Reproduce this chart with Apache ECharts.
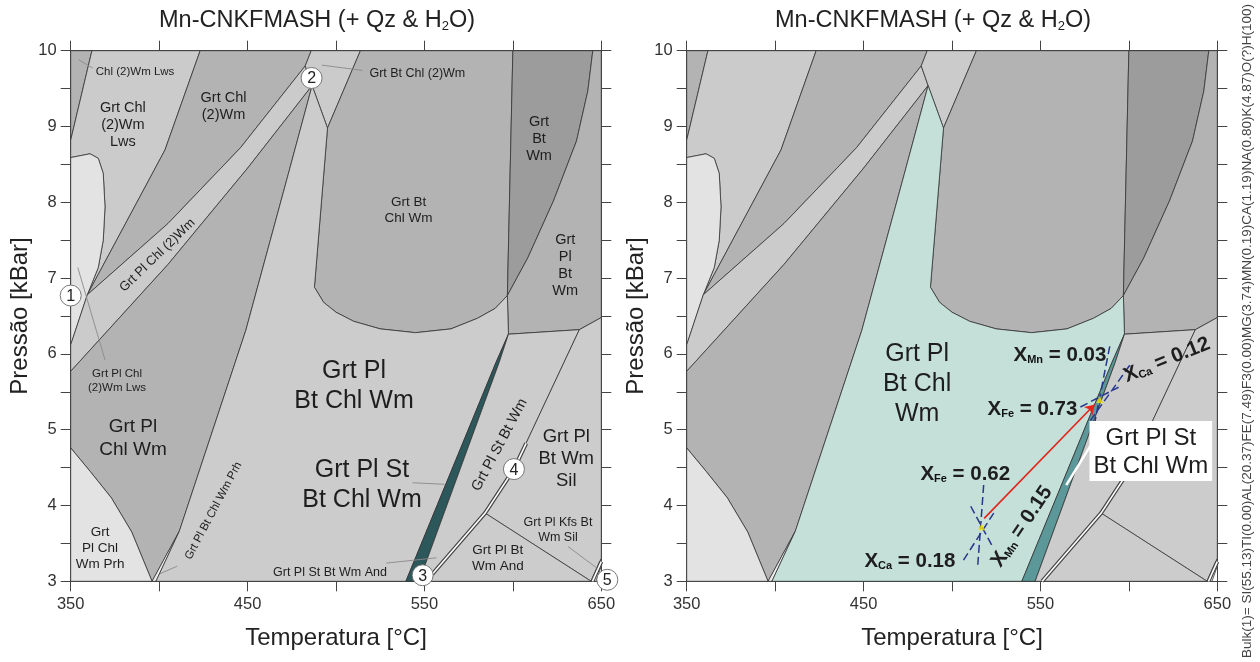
<!DOCTYPE html>
<html>
<head>
<meta charset="utf-8">
<script src="https://cdn.jsdelivr.net/npm/echarts@6/dist/echarts.min.js"></script>
<style>
  html, body { margin: 0; padding: 0; background: #fff; }
  #chart { width: 1260px; height: 662px; }
</style>
</head>
<body>
<div id="chart"></div>
<script>
// axis labels
const tempLabels = [350, 450, 550, 650]
const presLabels = [3, 4, 5, 6, 7, 8, 9, 10]

// field outlines, [T °C, P kBar]
const corner = [[350, 10], [362, 10], [350, 8.82]]
const chlLws = [[362, 10], [423.2, 10], [403.3, 8.69], [359.4, 6.78], [365.6, 7.14], [368.4, 7.5], [369.4, 7.94], [368.4, 8.38], [365.6, 8.58], [360.9, 8.64], [350, 8.59], [350, 8.82]]
const plLws = [[350, 8.59], [360.9, 8.64], [365.6, 8.58], [368.4, 8.38], [369.4, 7.94], [368.4, 7.5], [365.6, 7.14], [359.4, 6.78], [350, 6.12]]
const chl2wm = [[423.2, 10], [486, 10], [482.6, 9.8], [446, 8.72], [405, 7.72], [359.4, 6.78], [403.3, 8.69]]
const plChl2wm = [[350, 6.12], [359.4, 6.78], [405, 7.72], [446, 8.72], [482.6, 9.8], [486.5, 9.54], [450, 8.45], [405, 7.18], [350, 5.77]]
const plChlWm = [[350, 5.77], [405, 7.18], [450, 8.45], [486.5, 9.54], [473, 8.37], [449, 6.31], [411.4, 3.66], [396, 3], [384.5, 3.65], [373, 4.1], [361, 4.45], [350, 4.76]]
const prh = [[350, 3], [396, 3], [384.5, 3.65], [373, 4.1], [361, 4.45], [350, 4.76]]
const prhThin = [[396, 3], [411.4, 3.66], [398.2, 3]]
const btChl2wm = [[486, 10], [513.8, 10], [495.2, 8.98], [486.5, 9.54], [482.6, 9.8]]
const btChlWm = [[513.8, 10], [600, 10], [596.9, 6.77], [590, 6.6], [580, 6.47], [565, 6.33], [545, 6.28], [525, 6.33], [510, 6.43], [500, 6.55], [493, 6.68], [487.8, 6.88], [495.2, 8.98]]
const btWm = [[600, 10], [645.2, 10], [642.4, 9.47], [636, 8.81], [623, 8.02], [608.5, 7.27], [596.9, 6.77]]
const plBtWm = [[645.2, 10], [650, 10], [650, 6.48], [637.6, 6.32], [597.5, 6.26], [596.9, 6.77], [608.5, 7.27], [623, 8.02], [636, 8.81], [642.4, 9.47]]
const plBtChlWm = [[486.5, 9.54], [495.2, 8.98], [487.8, 6.88], [493, 6.68], [500, 6.55], [510, 6.43], [525, 6.33], [545, 6.28], [565, 6.33], [580, 6.47], [590, 6.6], [596.9, 6.77], [597.5, 6.26], [590.5, 5.89], [539.5, 3], [398.2, 3], [411.4, 3.66], [449, 6.31], [473, 8.37]]
const stField = [[539.5, 3], [547, 3], [592.3, 5.89], [597.5, 6.26], [590.5, 5.89]]
const plStBtWm = [[547, 3], [551, 3], [584.3, 3.9], [600.6, 4.48], [637.6, 6.32], [597.5, 6.26], [592.3, 5.89]]
const silField = [[584.3, 3.9], [600.6, 4.48], [637.6, 6.32], [650, 6.48], [650, 3.3], [644.3, 3]]
const andField = [[551, 3], [584.3, 3.9], [644.3, 3]]
const kfsField = [[644.3, 3], [650, 3.3], [650, 3.2], [647, 3]]

const fields = [
  { key: 'corner', pts: corner }, { key: 'chlLws', pts: chlLws }, { key: 'plLws', pts: plLws },
  { key: 'chl2wm', pts: chl2wm }, { key: 'plChl2wm', pts: plChl2wm }, { key: 'plChlWm', pts: plChlWm },
  { key: 'prh', pts: prh }, { key: 'prhThin', pts: prhThin }, { key: 'btChl2wm', pts: btChl2wm },
  { key: 'btChlWm', pts: btChlWm }, { key: 'btWm', pts: btWm }, { key: 'plBtWm', pts: plBtWm },
  { key: 'plBtChlWm', pts: plBtChlWm }, { key: 'stField', pts: stField }, { key: 'plStBtWm', pts: plStBtWm },
  { key: 'silField', pts: silField }, { key: 'andField', pts: andField }, { key: 'kfsField', pts: kfsField }
]

// reaction line drawn double (And/Sil)
const andSilLine = [[551, 3], [584.3, 3.9], [600.6, 4.48], [607.5, 4.82]]
const kfsLine = [[645, 3], [650, 3.26]]

// leader lines of the left diagram
const leaders = [
  [[354.5, 9.88], [362.5, 9.77]],
  [[492, 9.81], [515, 9.74]],
  [[354, 7.14], [369.4, 5.92]],
  [[543.2, 4.3], [561.4, 4.28]],
  [[528.4, 3.24], [556.8, 3.31]],
  [[631.1, 3.46], [647.2, 3.18]],
  [[410.2, 3.2], [400.5, 3.1]]
]

const fieldLabels = [
  { at: [386.4, 9.72], text: 'Chl (2)Wm Lws', size: 11.5 },
  { at: [379.5, 9.02], text: 'Grt Chl\n(2)Wm\nLws', size: 14.5 },
  { at: [436.4, 9.27], text: 'Grt Chl\n(2)Wm', size: 14.5 },
  { at: [546, 9.7], text: 'Grt Bt Chl (2)Wm', size: 12.5 },
  { at: [541, 7.9], text: 'Grt Bt\nChl Wm', size: 13.5 },
  { at: [614.8, 8.84], text: 'Grt\nBt\nWm', size: 14.5 },
  { at: [629.6, 7.17], text: 'Grt\nPl\nBt\nWm', size: 14.5 },
  { at: [399, 7.3], text: 'Grt Pl Chl (2)Wm', size: 13, rot: 44 },
  { at: [376.2, 5.65], text: 'Grt Pl Chl\n(2)Wm Lws', size: 11.5 },
  { at: [385.2, 4.89], text: 'Grt Pl\nChl Wm', size: 19 },
  { at: [366.6, 3.43], text: 'Grt\nPl Chl\nWm Prh', size: 13.5 },
  { at: [430.7, 3.93], text: 'Grt Pl Bt Chl Wm Prh', size: 11.5, rot: 62 },
  { at: [510.2, 5.57], text: 'Grt Pl\nBt Chl Wm', size: 25 },
  { at: [514.7, 4.27], text: 'Grt Pl St\nBt Chl Wm', size: 25 },
  { at: [592.5, 4.8], text: 'Grt Pl St Bt Wm', size: 14.5, rot: 62 },
  { at: [630.2, 4.62], text: 'Grt Pl\nBt Wm\nSil', size: 18.5 },
  { at: [625.5, 3.67], text: 'Grt Pl Kfs Bt\nWm Sil', size: 12.5 },
  { at: [591.5, 3.3], text: 'Grt Pl Bt\nWm And', size: 13.5 },
  { at: [496.6, 3.11], text: 'Grt Pl St Bt Wm And', size: 12.5 }
]

const invariantPts = [[350, 6.77], [486.2, 9.64], [549, 3.08], [600.6, 4.48], [653.4, 3.02]]
const invariantNames = ['1', '2', '3', '4', '5']

// right diagram: isopleths, path, notes
const isoLow = [
  [[517.9, 4.27], [514.5, 3.19]],
  [[506.5, 3.28], [523.6, 3.9]],
  [[510.6, 3.99], [522.4, 3.48]]
]
const isoHigh = [
  [[589.2, 6.1], [579.5, 4.95]],
  [[600.5, 5.85], [577, 5.08]],
  [[572.6, 5.3], [594.2, 5.56]]
]
const ptStart = [516.8, 3.72]
const ptEnd = [583.5, 5.4]
const pathLine = [[518.2, 3.83], [580.5, 5.33]]
const stLeader = [[581.2, 4.9], [564.6, 4.27]]

const noteLabels = [
  { at: [480.3, 5.6], text: 'Grt Pl\nBt Chl\nWm', size: 25 },
  { at: [561, 5.98], text: 'X{s|Mn} = 0.03', size: 20.5, bold: true },
  { at: [621.5, 5.92], text: 'X{s|Ca} = 0.12', size: 20.5, bold: true, rot: 22 },
  { at: [545.5, 5.27], text: 'X{s|Fe} = 0.73', size: 20.5, bold: true },
  { at: [507.5, 4.41], text: 'X{s|Fe} = 0.62', size: 20.5, bold: true },
  { at: [539.5, 3.72], text: 'X{s|Mn} = 0.15', size: 20.5, bold: true, rot: 56 },
  { at: [476.2, 3.26], text: 'X{s|Ca} = 0.18', size: 20.5, bold: true },
  { at: [612.4, 4.72], text: 'Grt Pl St\nBt Chl Wm', size: 24, box: true }
]

const bulkText = 'Bulk(1)= SI(55.13)TI(0.00)AL(20.37)FE(7.49)F3(0.00)MG(3.74)MN(0.19)CA(1.19)NA(0.80)K(4.87)O(?)H(100)'

const FONT = '"Liberation Sans", Arial, sans-serif'

const greyFills = {
  corner: '#b3b3b3', chlLws: '#cbcbcb', plLws: '#e3e3e3', chl2wm: '#b3b3b3', plChl2wm: '#cbcbcb',
  plChlWm: '#b3b3b3', prh: '#e3e3e3', prhThin: '#ececec', btChl2wm: '#cbcbcb', btChlWm: '#b3b3b3',
  btWm: '#9c9c9c', plBtWm: '#b3b3b3', plBtChlWm: '#cccccc', stField: '#2c575b', plStBtWm: '#cccccc',
  silField: '#cccccc', andField: '#cccccc', kfsField: '#efefef'
}
const greenFills = Object.assign({}, greyFills, { plBtChlWm: '#c4e0d8', stField: '#5c9899' })

const chart = echarts.init(document.getElementById('chart'), null, { renderer: 'canvas' })

const grids = [
  { left: 70.7, top: 50.7, width: 530.6, height: 530.6 },
  { left: 686.7, top: 50.7, width: 530.6, height: 530.6 }
]

function xAxes(gi) {
  const base = {
    gridIndex: gi, type: 'value', min: 350, max: 650, interval: 50,
    axisLine: { show: true, onZero: false, lineStyle: { color: '#444', width: 1 } },
    axisTick: { show: true, inside: false, length: 10, lineStyle: { color: '#444' } },
    splitLine: { show: false }
  }
  return [
    Object.assign({}, base, {
      position: 'bottom',
      axisLabel: { color: '#333', fontSize: 16.5, fontFamily: FONT, margin: 15,
        formatter: v => tempLabels.includes(v) ? String(v) : '' },
      name: 'Temperatura [°C]', nameLocation: 'middle', nameGap: 45,
      nameTextStyle: { color: '#222', fontSize: 24, fontFamily: FONT }
    }),
    Object.assign({}, base, { position: 'top', axisLabel: { show: false } })
  ]
}

function yAxes(gi) {
  const base = {
    gridIndex: gi, type: 'value', min: 3, max: 10, interval: 0.5,
    axisLine: { show: true, onZero: false, lineStyle: { color: '#444', width: 1 } },
    axisTick: { show: true, inside: false, length: 10, lineStyle: { color: '#444' } },
    splitLine: { show: false }
  }
  return [
    Object.assign({}, base, {
      position: 'left',
      axisLabel: { color: '#333', fontSize: 16.5, fontFamily: FONT, margin: 14,
        formatter: v => presLabels.includes(v) ? String(v) : '' },
      name: 'Pressão [kBar]', nameLocation: 'middle', nameGap: 38,
      nameTextStyle: { color: '#222', fontSize: 24, fontFamily: FONT }
    }),
    Object.assign({}, base, { position: 'right', axisLabel: { show: false } })
  ]
}

function subRich(size, bold) {
  return {
    s: { fontSize: Math.round(size * 0.55), fontWeight: bold ? 'bold' : 'normal', fontFamily: FONT,
      fill: '#111', padding: [Math.round(size * 0.45), 0, 0, 0] }
  }
}

function fieldSeries(ai, fills) {
  return {
    type: 'custom', xAxisIndex: ai, yAxisIndex: ai, silent: true, animation: false, z: 1,
    data: fields.map(f => f.pts[0]),
    renderItem: (params, api) => {
      const f = fields[params.dataIndex]
      return {
        type: 'polygon',
        shape: { points: f.pts.map(p => api.coord(p)) },
        style: { fill: fills[f.key], stroke: '#333', lineWidth: 0.8 }
      }
    }
  }
}

function lineSeries(ai, lines, style, z) {
  return {
    type: 'custom', xAxisIndex: ai, yAxisIndex: ai, silent: true, animation: false, z: z || 3,
    data: lines.map(l => l[0]),
    renderItem: (params, api) => ({
      type: 'polyline',
      shape: { points: lines[params.dataIndex].map(p => api.coord(p)) },
      style: Object.assign({ fill: null }, style)
    })
  }
}

function textSeries(ai, items) {
  return {
    type: 'custom', xAxisIndex: ai, yAxisIndex: ai, silent: true, animation: false, z: 10,
    data: items.map(t => t.at),
    renderItem: (params, api) => {
      const t = items[params.dataIndex]
      const c = api.coord(t.at)
      const style = {
        text: t.text, x: 0, y: 0, align: 'center', verticalAlign: 'middle',
        fontSize: t.size, fontFamily: FONT, fontWeight: t.bold ? 'bold' : 'normal',
        fill: '#1e1e1e', lineHeight: Math.round(t.size * 1.2), rich: subRich(t.size, t.bold)
      }
      if (t.box) {
        style.backgroundColor = '#fff'
        style.padding = [3, 4, 1, 4]
        style.lineHeight = 28
      }
      return { type: 'text', x: c[0], y: c[1], rotation: (t.rot || 0) * Math.PI / 180, style }
    }
  }
}

function circleSeries(ai) {
  return {
    type: 'custom', xAxisIndex: ai, yAxisIndex: ai, silent: true, animation: false, z: 12,
    data: invariantPts,
    renderItem: (params, api) => {
      const c = api.coord(invariantPts[params.dataIndex])
      return {
        type: 'group',
        children: [
          { type: 'circle', shape: { cx: c[0], cy: c[1], r: 10.5 }, style: { fill: '#fff', stroke: '#777', lineWidth: 1 } },
          { type: 'text', style: { text: invariantNames[params.dataIndex], x: c[0], y: c[1] + 1, align: 'center',
            verticalAlign: 'middle', fontSize: 16, fontFamily: FONT, fill: '#222' } }
        ]
      }
    }
  }
}

const titleStyle = {
  text: 'Mn-CNKFMASH (+ Qz & H{s|2}O)', align: 'center', verticalAlign: 'middle',
  fontSize: 23.5, fontFamily: FONT, fill: '#222',
  rich: { s: { fontSize: 13, fontFamily: FONT, fill: '#222', padding: [11, 0, 0, 0] } }
}

const option = {
  animation: false,
  grid: grids,
  xAxis: [...xAxes(0), ...xAxes(1)],
  yAxis: [...yAxes(0), ...yAxes(1)],
  graphic: [
    { type: 'text', x: 317, y: 21, style: Object.assign({}, titleStyle) },
    { type: 'text', x: 933, y: 21, style: Object.assign({}, titleStyle) },
    { type: 'text', x: 1247, y: 331, rotation: Math.PI / 2, style: { text: bulkText, align: 'center', verticalAlign: 'middle',
      fontSize: 13.5, fontFamily: FONT, fill: '#444' } }
  ],
  series: [
    // left diagram
    fieldSeries(0, greyFills),
    lineSeries(0, [andSilLine, kfsLine], { stroke: '#444', lineWidth: 4 }, 4),
    lineSeries(0, [andSilLine, kfsLine], { stroke: '#fff', lineWidth: 1.6 }, 5),
    lineSeries(0, leaders, { stroke: '#8a8a8a', lineWidth: 0.9 }, 6),
    textSeries(0, fieldLabels),
    circleSeries(0),
    // right diagram
    fieldSeries(2, greenFills),
    lineSeries(2, [andSilLine, kfsLine], { stroke: '#444', lineWidth: 4 }, 4),
    lineSeries(2, [andSilLine, kfsLine], { stroke: '#fff', lineWidth: 1.6 }, 5),
    lineSeries(2, [...isoLow, ...isoHigh], { stroke: '#27388c', lineWidth: 1.5, lineDash: [8, 4] }, 6),
    lineSeries(2, [stLeader], { stroke: '#fff', lineWidth: 2.5 }, 6),
    {
      type: 'lines', coordinateSystem: 'cartesian2d', xAxisIndex: 2, yAxisIndex: 2, z: 7, silent: true,
      symbol: ['none', 'arrow'], symbolSize: 9,
      lineStyle: { color: '#e3241b', width: 1.6, opacity: 1, curveness: 0 },
      data: [{ coords: pathLine }]
    },
    {
      type: 'scatter', xAxisIndex: 2, yAxisIndex: 2, z: 8, silent: true, symbol: 'triangle', symbolSize: 7,
      itemStyle: { color: '#f4e000' }, data: [ptStart, ptEnd]
    },
    textSeries(2, noteLabels)
  ]
}

chart.setOption(option)
</script>
</body>
</html>
